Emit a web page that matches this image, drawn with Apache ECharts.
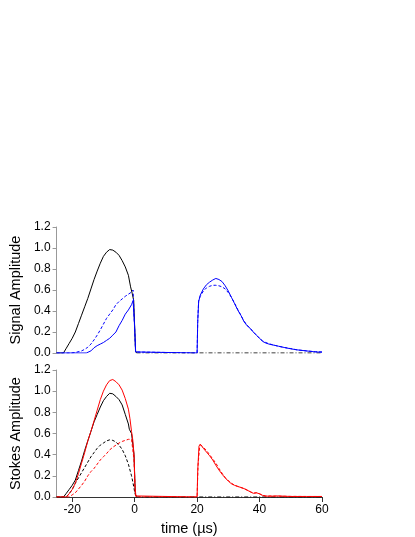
<!DOCTYPE html>
<html>
<head>
<meta charset="utf-8">
<script src="https://cdn.jsdelivr.net/npm/echarts@6/dist/echarts.min.js"></script>
<style>
html, body { margin: 0; padding: 0; background: #fff; }
#chart { width: 415px; height: 537px; }
</style>
</head>
<body>
<div id="chart"></div>
<script>
// time axis and tick labels
var timeMin = -25, timeMax = 60;
var timeTicks = [-20, 0, 20, 40, 60];
var ampTicks = [0, 0.2, 0.4, 0.6, 0.8, 1.0, 1.2];

// signal panel: [time (us), amplitude]
var sigBlack = [[-25,0],[-22.8,0],[-22,0.04],[-21,0.09],[-20,0.14],[-19,0.2],[-18,0.28],[-17,0.36],[-16,0.44],[-15,0.52],
  [-14,0.61],[-13,0.7],[-12,0.78],[-11,0.855],[-10,0.92],[-9,0.96],[-8,0.985],[-7.5,0.99],[-7,0.98],[-6,0.96],
  [-5,0.93],[-4,0.88],[-3,0.82],[-2,0.74],[-1.3,0.63],[-0.8,0.57],[-0.3,0.5],[0,0.25],[0.3,0.02],[0.6,0]];
var sigBlackBase = [[0.6,0],[60,0]];
var sigBlueDash = [[-25,0],[-20.5,0],[-19,0.005],[-17,0.02],[-16,0.035],[-15,0.055],[-14,0.085],[-13,0.125],[-12,0.17],
  [-11,0.22],[-10,0.275],[-9,0.33],[-8,0.37],[-7,0.41],[-6,0.46],[-5,0.49],[-4,0.515],[-3,0.54],[-2,0.56],[-1,0.58],
  [-0.5,0.6],[-0.1,0.3],[0.3,0.01],[0.6,0],[20,0],[20.2,0.3],[20.5,0.5],[21,0.54],[22,0.59],[23,0.62],[24,0.635],
  [25,0.645],[26,0.645],[27,0.64],[28,0.63],[29,0.61],[30,0.575],[31,0.53],[32,0.475],[33,0.415],[34,0.36],[35,0.305],
  [36,0.265],[37,0.235],[38,0.2],[39,0.17],[40,0.14],[41,0.115],[42,0.1],[43,0.088],[44,0.08],[45,0.072],[46,0.065],
  [48,0.052],[50,0.042],[52,0.03],[55,0.02],[58,0.012],[60,0.01]];
var sigBlue = [[-25,0],[-15.5,0],[-14,0.02],[-13,0.05],[-12,0.07],[-11,0.085],[-10,0.1],[-9,0.12],[-8,0.14],[-7,0.17],
  [-6,0.2],[-5,0.26],[-4,0.31],[-3,0.37],[-2,0.41],[-1,0.46],[-0.5,0.5],[-0.2,0.5],[0,0.25],[0.3,0.01],[0.6,0],
  [20,0],[20.2,0.3],[20.5,0.49],[21,0.55],[22,0.61],[23,0.65],[24,0.675],[25,0.695],[26,0.71],[27,0.7],[28,0.68],
  [29,0.64],[30,0.59],[31,0.53],[32,0.47],[33,0.41],[34,0.36],[35,0.3],[36,0.26],[37,0.235],[38,0.2],[39,0.17],
  [40,0.14],[41,0.11],[42,0.095],[43,0.085],[44,0.078],[45,0.072],[46,0.065],[48,0.052],[50,0.04],[52,0.03],
  [55,0.02],[58,0.01],[60,0.008]];

// stokes panel: [time (us), amplitude]
var stkBlack = [[-25,0],[-22.8,0],[-22,0.03],[-21,0.07],[-20,0.11],[-19,0.16],[-18,0.25],[-17,0.34],[-16,0.44],[-15,0.53],
  [-14,0.62],[-13,0.71],[-12,0.78],[-11,0.85],[-10,0.91],[-9,0.95],[-8,0.98],[-7.5,0.985],[-7,0.975],[-6,0.95],
  [-5,0.92],[-4,0.87],[-3,0.78],[-2,0.69],[-1.7,0.64],[-1,0.6],[-0.7,0.53],[-0.2,0.4],[0.2,0.03],[0.6,0]];
var stkBlackDash = [[-25,0],[-22,0],[-21,0.03],[-20,0.07],[-19,0.13],[-18,0.18],[-17,0.23],[-16,0.28],[-15,0.33],[-14,0.38],
  [-13,0.42],[-12,0.46],[-11,0.49],[-10,0.51],[-9,0.53],[-8,0.54],[-7,0.535],[-6,0.52],[-5,0.49],[-4,0.45],[-3,0.39],
  [-2,0.31],[-1,0.2],[-0.5,0.13],[0,0.05],[0.5,0]];
var stkBlackBase = [[0.5,0],[60,0]];
var stkRedDash = [[-25,0],[-21,0],[-20,0.02],[-19,0.04],[-18,0.075],[-17,0.11],[-16,0.15],[-15,0.2],[-14,0.24],[-13,0.27],
  [-12,0.31],[-11,0.35],[-10,0.38],[-9,0.41],[-8,0.445],[-7,0.47],[-6,0.49],[-5,0.51],[-4,0.525],[-3,0.535],[-2,0.545],
  [-1,0.545],[-0.5,0.54],[-0.2,0.35],[0.2,0.02],[0.6,0],[20,0],[20.3,0.3],[20.8,0.47],[21.3,0.49],[22,0.47],[23,0.44],
  [24,0.4],[25,0.36],[26,0.32],[27,0.27],[28,0.225],[29,0.185],[30,0.155],[31,0.13],[32,0.112],[33,0.1],[34,0.09],
  [35,0.08],[36,0.066],[37,0.05],[38,0.036],[39,0.04],[40,0.03],[41,0.015],[42,0.01],[45,0.008],[50,0.006],[55,0.005],[60,0.005]];
var stkRed = [[-25,0],[-21.8,0],[-21,0.03],[-20,0.07],[-19,0.13],[-18,0.22],[-17,0.32],[-16,0.42],[-15,0.53],[-14,0.62],
  [-13,0.72],[-12,0.82],[-11,0.92],[-10,1.0],[-9,1.06],[-8,1.1],[-7.5,1.115],[-7,1.11],[-6,1.09],[-5,1.06],[-4,1.01],
  [-3,0.93],[-2,0.83],[-1.5,0.74],[-1,0.62],[-0.6,0.54],[-0.2,0.4],[0.1,0.1],[0.4,0.01],[0.8,0],[20,0],[20.2,0.25],
  [20.6,0.48],[21,0.5],[22,0.46],[23,0.425],[24,0.39],[25,0.35],[26,0.3],[27,0.255],[28,0.215],[29,0.18],[30,0.15],
  [31,0.125],[32,0.11],[33,0.1],[34,0.09],[35,0.08],[36,0.065],[37,0.05],[38,0.035],[39,0.04],[40,0.03],[41,0.015],
  [42,0.008],[44,0.008],[46,0.01],[50,0.005],[55,0.005],[60,0.005]];

var myChart = echarts.init(document.getElementById('chart'));
var font = 'Liberation Sans, Arial, sans-serif';

function yAxis(idx, name) {
    return {
        type: 'value', gridIndex: idx, min: 0, max: 1.2, interval: 0.2,
        name: name, nameLocation: 'middle', nameGap: 31,
        nameTextStyle: { color: '#000', fontSize: 14.5, fontFamily: font },
        axisLine: { show: true, onZero: false, lineStyle: { color: '#999', width: 1 } },
        axisTick: { show: true, length: 4, lineStyle: { color: '#999' } },
        axisLabel: { color: '#000', fontSize: 12, fontFamily: font, margin: 6,
            formatter: function (v) { return v.toFixed(1); } },
        splitLine: { show: false }
    };
}

function line(name, data, color, type, xi) {
    return {
        name: name, type: 'line', data: data, xAxisIndex: xi, yAxisIndex: xi,
        showSymbol: false, symbol: 'none', silent: true,
        lineStyle: { color: color, width: 1, type: type }
    };
}

var option = {
    animation: false,
    backgroundColor: '#fff',
    grid: [
        { left: 51, top: 227, width: 271, height: 126 },
        { left: 51, top: 370, width: 271, height: 127 }
    ],
    xAxis: [
        { type: 'value', gridIndex: 0, min: timeMin, max: timeMax, show: false },
        { type: 'value', gridIndex: 1, min: timeMin, max: timeMax,
          name: 'time (\u00b5s)', nameLocation: 'middle', nameGap: 24,
          nameTextStyle: { color: '#000', fontSize: 14.5, fontFamily: font },
          axisLine: { show: true, onZero: false, lineStyle: { color: '#333', width: 1 } },
          axisTick: { show: true, length: 5, customValues: timeTicks, lineStyle: { color: '#333' } },
          axisLabel: { color: '#000', fontSize: 12, fontFamily: font, margin: 7, customValues: timeTicks },
          splitLine: { show: false } }
    ],
    yAxis: [yAxis(0, 'Signal Amplitude'), yAxis(1, 'Stokes Amplitude')],
    series: [
        line('signal ref', sigBlack, '#000', 'solid', 0),
        line('signal ref base', sigBlackBase, '#000', [4, 2, 1, 2], 0),
        line('signal dashed', sigBlueDash, '#0000ff', [3, 2], 0),
        line('signal', sigBlue, '#0000ff', 'solid', 0),
        line('stokes ref', stkBlack, '#000', 'solid', 1),
        line('stokes ref dashed', stkBlackDash, '#000', [3, 2], 1),
        line('stokes ref base', stkBlackBase, '#000', [4, 2, 1, 2], 1),
        line('stokes dashed', stkRedDash, '#ff0000', [3, 2], 1),
        line('stokes', stkRed, '#ff0000', 'solid', 1)
    ]
};

myChart.setOption(option);
</script>
</body>
</html>
